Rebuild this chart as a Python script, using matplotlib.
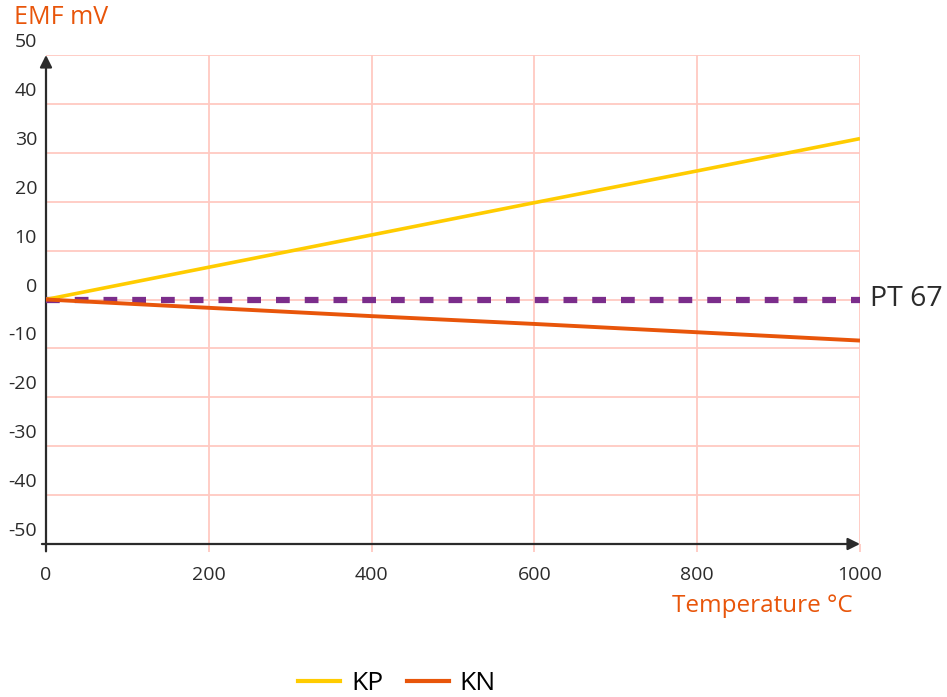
import numpy as np
import matplotlib
matplotlib.use('Agg')
import matplotlib.pyplot as plt
from matplotlib.lines import Line2D
import matplotlib.transforms as mtransforms

plt.rcParams['font.family'] = ['Open Sans', 'DejaVu Sans']

# --- Data ---
temps = [0, 200, 400, 600, 800, 1000]
kp_emf = [0, 6.6, 13.2, 19.8, 26.3, 32.9]
kn_emf = [0, -1.7, -3.4, -5.0, -6.7, -8.4]
pt67_emf = [0, 0, 0, 0, 0, 0]

x_ticks = [0, 200, 400, 600, 800, 1000]
y_ticks = [50, 40, 30, 20, 10, 0, -10, -20, -30, -40, -50]

ORANGE = '#E8550A'
YELLOW = '#FFCC00'
PURPLE = '#7B2D8B'
GRID = '#FFC9C2'
TEXT = '#2b2b2b'

fig = plt.figure(figsize=(9.47, 6.97), dpi=100)
ax = fig.add_axes([46 / 947, 1 - 544 / 697, (860 - 46) / 947, (544 - 55) / 697])

ax.set_xlim(0, 1000)
ax.set_ylim(-50, 50)

# pink grid lines
for xv in x_ticks[1:]:
    ax.plot([xv, xv], [-50, 50], color=GRID, lw=1.3, zorder=1)
for yv in y_ticks[:-1]:
    ax.plot([0, 1000], [yv, yv], color=GRID, lw=1.3, zorder=1)

for s in ax.spines.values():
    s.set_visible(False)
ax.set_xticks(x_ticks)
ax.set_yticks([])
ax.tick_params(axis='x', length=6, color=GRID, width=1.3, pad=10, labelsize=14, labelcolor=TEXT)
ax.set_xticklabels([str(v) for v in x_ticks])

# y tick labels sit above their grid line
offset = mtransforms.ScaledTranslation(-9 / 100, 13 / 100, fig.dpi_scale_trans)
for yv in y_ticks:
    ax.text(0, yv, str(yv), transform=ax.transData + offset, ha='right', va='center',
            fontsize=14, color=TEXT)

# axes with arrow heads
ax.annotate('', xy=(0, 1.0), xytext=(0, -0.015), xycoords='axes fraction',
            arrowprops=dict(arrowstyle='-|>', color='#2b2b2b', lw=1.6, mutation_scale=18,
                            shrinkA=0, shrinkB=0), annotation_clip=False)
ax.annotate('', xy=(1.0, 0), xytext=(-0.005, 0), xycoords='axes fraction',
            arrowprops=dict(arrowstyle='-|>', color='#2b2b2b', lw=1.6, mutation_scale=18,
                            shrinkA=0, shrinkB=0), annotation_clip=False)

# series
ax.plot(temps, pt67_emf, color=PURPLE, lw=4.5, dashes=(2.2, 2.4), zorder=3, clip_on=False)
ax.plot(temps, kp_emf, color=YELLOW, lw=2.6, zorder=4, solid_capstyle='butt')
ax.plot(temps, kn_emf, color=ORANGE, lw=2.8, zorder=4, solid_capstyle='butt')

ax.text(1012, 0, 'PT 67', ha='left', va='center', fontsize=20.5, color=TEXT)

fig.text(14 / 947, 1 - 18 / 697, 'EMF mV', ha='left', va='center', fontsize=18, color=ORANGE)
fig.text(853 / 947, 1 - 606 / 697, 'Temperature °C', ha='right', va='center',
         fontsize=17.5, color=ORANGE)

handles = [Line2D([], [], color=YELLOW, lw=3, label='KP'),
           Line2D([], [], color=ORANGE, lw=3, label='KN')]
fig.legend(handles=handles, loc='center', bbox_to_anchor=(397 / 947, 1 - 684 / 697), ncol=2,
           frameon=False, fontsize=19, handlelength=1.6, handletextpad=0.4,
           columnspacing=0.9, borderpad=0, borderaxespad=0)

fig.savefig('out.png', dpi=100)
